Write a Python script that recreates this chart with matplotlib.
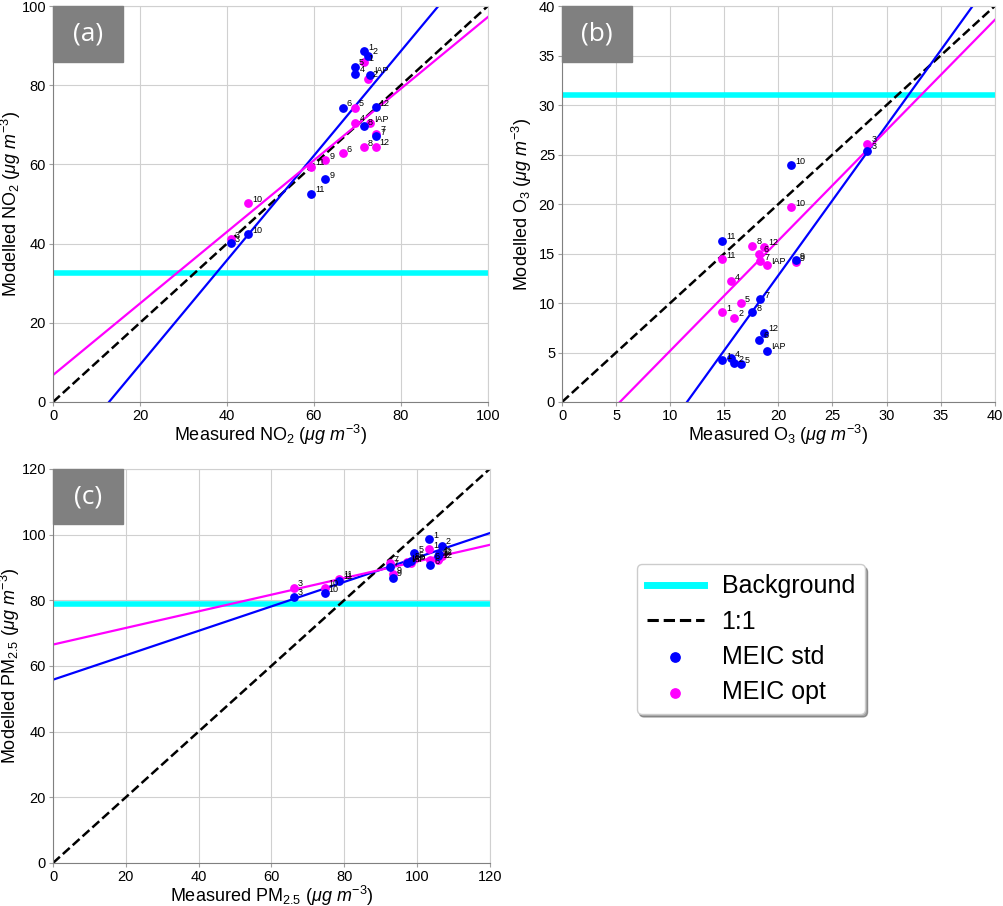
import matplotlib
matplotlib.use("Agg")
import matplotlib.pyplot as plt
import numpy as np
from matplotlib.patches import Rectangle

plt.rcParams['font.family'] = ['Liberation Sans', 'DejaVu Sans']
plt.rcParams['mathtext.fontset'] = 'custom'
plt.rcParams['mathtext.rm'] = 'Liberation Sans'
plt.rcParams['mathtext.it'] = 'Liberation Sans:italic'

labels = ['1', '2', '3', '4', '5', '6', '7', '8', '9', '10', '11', '12', 'IAP']

# NO2 (a)
no2_meas = [71.6, 72.5, 40.9, 69.5, 69.4, 66.6, 74.3, 71.5, 62.6, 44.8, 59.4, 74.2, 73.0]
no2_std = [88.6, 87.5, 40.1, 82.9, 84.7, 74.3, 67.1, 69.6, 56.2, 42.4, 52.6, 74.5, 82.7]
no2_opt = [85.8, 81.7, 41.1, 70.5, 74.3, 62.9, 67.8, 64.3, 61.1, 50.2, 59.4, 64.5, 70.4]
no2_bg = 32.5
no2_fit_std = (1.32, -17.0)
no2_fit_opt = (0.904, 6.8)

# O3 (b)
o3_meas = [14.8, 15.9, 28.2, 15.6, 16.5, 18.2, 18.3, 17.6, 21.6, 21.2, 14.8, 18.7, 18.9]
o3_std = [4.2, 3.9, 25.4, 4.4, 3.8, 6.3, 10.4, 9.1, 14.3, 23.9, 16.3, 7.0, 5.2]
o3_opt = [9.1, 8.5, 26.1, 12.2, 10.0, 15.0, 14.2, 15.8, 14.1, 19.7, 14.4, 15.7, 13.8]
o3_bg = 31.0
o3_fit_std = (1.515, -17.5)
o3_fit_opt = (1.114, -5.96)

# PM2.5 (c)
pm_meas = [103.4, 106.8, 66.2, 106.0, 99.3, 103.6, 92.5, 98.3, 93.3, 74.6, 78.7, 105.8, 97.3]
pm_std = [98.6, 96.6, 81.1, 94.0, 94.4, 90.6, 90.1, 92.0, 86.9, 82.1, 85.9, 93.4, 91.3]
pm_opt = [95.6, 93.5, 83.8, 92.8, 92.5, 92.2, 91.2, 91.3, 88.0, 83.8, 86.6, 92.3, 91.5]
pm_bg = 78.8
pm_fit_std = (0.372, 55.8)
pm_fit_opt = (0.253, 66.5)

BLUE = '#0000ff'
MAG = '#ff00ff'
CYAN = '#00ffff'

fig = plt.figure(figsize=(10.04, 9.06), dpi=100)
ax_a = fig.add_axes([0.0528, 0.5563, 0.433, 0.437])
ax_b = fig.add_axes([0.5598, 0.5563, 0.431, 0.437])
ax_c = fig.add_axes([0.0528, 0.0475, 0.435, 0.435])


def panel(ax, meas, std, opt, bg, fit_s, fit_o, lim, step, tag, xlab, ylab, ylx):
    ax.set_axisbelow(True)
    ax.grid(True, color='#d0d0d0', lw=0.8)
    x = np.array([0, lim])
    ax.axhline(bg, color=CYAN, lw=4, zorder=2)
    ax.plot(x, x, '--', color='black', lw=1.8, zorder=2)
    ax.plot(x, fit_s[0] * x + fit_s[1], color=BLUE, lw=1.6, zorder=2)
    ax.plot(x, fit_o[0] * x + fit_o[1], color=MAG, lw=1.6, zorder=2)
    ax.scatter(meas, opt, s=28, color=MAG, zorder=3)
    ax.scatter(meas, std, s=28, color=BLUE, zorder=4)
    for i, lab in enumerate(labels):
        ax.annotate(lab, (meas[i], std[i]), xytext=(3, 1), textcoords='offset points',
                    fontsize=6.5, color='black', zorder=5)
        ax.annotate(lab, (meas[i], opt[i]), xytext=(3, 1), textcoords='offset points',
                    fontsize=6.5, color='black', zorder=5)
    ax.set_xlim(0, lim)
    ax.set_ylim(0, lim)
    ax.set_xticks(np.arange(0, lim + 0.1, step))
    ax.set_yticks(np.arange(0, lim + 0.1, step))
    ax.tick_params(length=3, color='#a0a0a0', labelsize=10.5, pad=2)
    for s in ['top', 'right']:
        ax.spines[s].set_color('#d0d0d0')
    for s in ['left', 'bottom']:
        ax.spines[s].set_color('#808080')
    ax.set_xlabel(xlab, fontsize=13, labelpad=0)
    ax.set_ylabel(ylab, fontsize=13)
    ax.yaxis.set_label_coords(ylx, 0.5)
    ax.add_patch(Rectangle((0, 0.859), 0.161, 0.141, transform=ax.transAxes,
                           color='#808080', zorder=6, clip_on=False))
    ax.text(0.0805, 0.929, tag, transform=ax.transAxes, ha='center', va='center',
            color='white', fontsize=19, family=['Open Sans', 'DejaVu Sans'], zorder=7)


unit = r'($\mu g\ m^{-3}$)'
panel(ax_a, no2_meas, no2_std, no2_opt, no2_bg, no2_fit_std, no2_fit_opt, 100, 20, '(a)',
      r'Measured NO$_2$ ' + unit, r'Modelled NO$_2$ ' + unit, -0.070)
panel(ax_b, o3_meas, o3_std, o3_opt, o3_bg, o3_fit_std, o3_fit_opt, 40, 5, '(b)',
      r'Measured O$_3$ ' + unit, r'Modelled O$_3$ ' + unit, -0.064)
panel(ax_c, pm_meas, pm_std, pm_opt, pm_bg, pm_fit_std, pm_fit_opt, 120, 20, '(c)',
      r'Measured PM$_{2.5}$ ' + unit, r'Modelled PM$_{2.5}$ ' + unit, -0.070)

h_bg, = ax_c.plot([], [], color=CYAN, lw=5)
h_11, = ax_c.plot([], [], '--', color='black', lw=2.2)
h_s = ax_c.scatter([], [], s=45, color=BLUE)
h_o = ax_c.scatter([], [], s=45, color=MAG)
fig.legend([h_bg, h_11, h_s, h_o], ['Background', '1:1', 'MEIC std', 'MEIC opt'],
           loc='upper left', bbox_to_anchor=(0.634, 0.377), fontsize=18,
           frameon=True, shadow=True, fancybox=True, handlelength=2.3,
           borderpad=0.4, labelspacing=0.45, handletextpad=0.7, borderaxespad=0)

fig.savefig('out.png', dpi=100)
